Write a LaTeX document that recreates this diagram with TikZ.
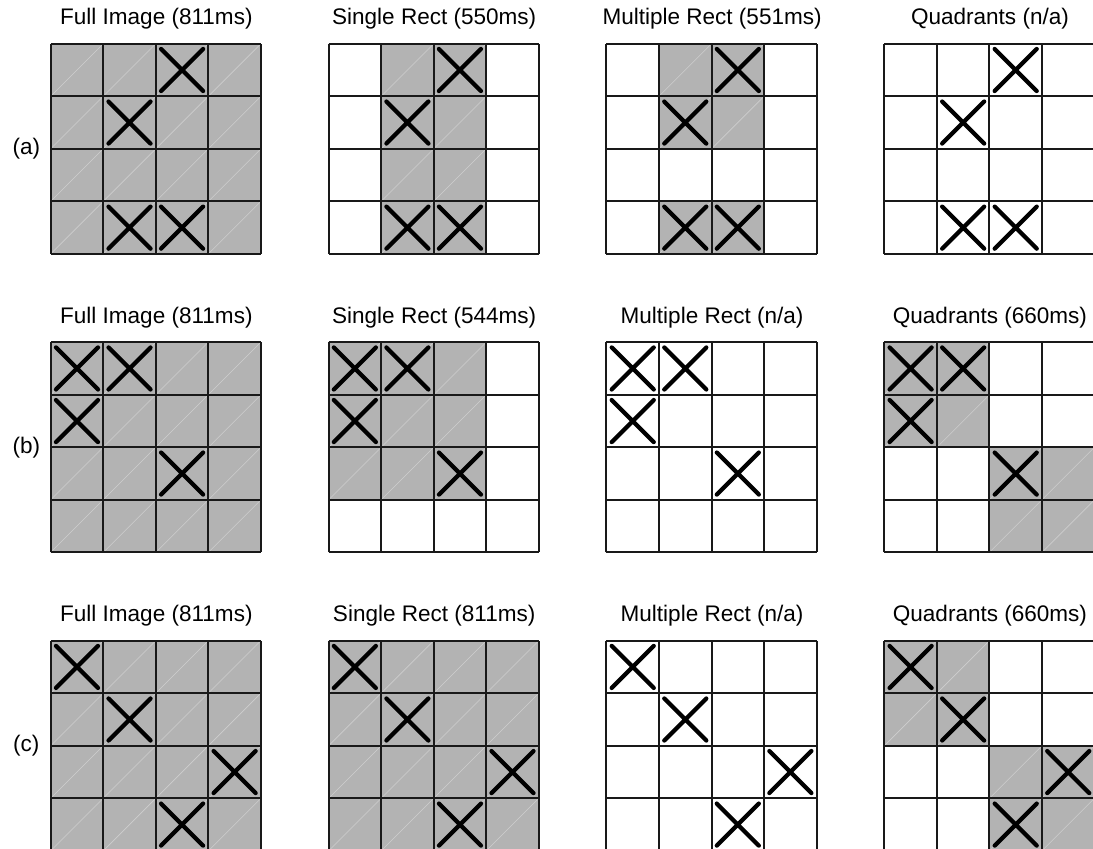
\documentclass[tikz,border=0pt]{standalone}
\usepackage{fontspec}
\setmainfont{Liberation Sans}
\usepackage{tikz}
\definecolor{cellgray}{RGB}{179,179,179}
\definecolor{diaggray}{RGB}{206,206,206}
\definecolor{linegray}{RGB}{25,25,25}

\begin{document}
\begin{tikzpicture}[
  title/.style={font=\fontsize{12.2}{14}\selectfont, anchor=base},
  rowlabel/.style={font=\fontsize{12.2}{14}\selectfont},
  cell/.style={fill=cellgray},
  diag/.style={draw=diaggray, line width=0.3pt},
  gridline/.style={draw=linegray, line width=1.1pt},
  cross/.style={line width=2.3pt, line cap=round},
]
\clip (0,0) rectangle (20.80,-16.156);

% Row labels
\node[rowlabel] (lab_a) at (0.50,-2.832) {(a)};
\node[rowlabel] (lab_b) at (0.50,-8.512) {(b)};
\node[rowlabel] (lab_c) at (0.50,-14.192) {(c)};

% Titles
\node[title] (a_full) at (2.975,-0.472) {Full Image (811ms)};
\node[title] (a_single) at (8.263,-0.472) {Single Rect (550ms)};
\node[title] (a_multi) at (13.551,-0.472) {Multiple Rect (551ms)};
\node[title] (a_quad) at (18.839,-0.472) {Quadrants (n/a)};
\node[title] (b_full) at (2.975,-6.152) {Full Image (811ms)};
\node[title] (b_single) at (8.263,-6.152) {Single Rect (544ms)};
\node[title] (b_multi) at (13.551,-6.152) {Multiple Rect (n/a)};
\node[title] (b_quad) at (18.839,-6.152) {Quadrants (660ms)};
\node[title] (c_full) at (2.975,-11.832) {Full Image (811ms)};
\node[title] (c_single) at (8.263,-11.832) {Single Rect (811ms)};
\node[title] (c_multi) at (13.551,-11.832) {Multiple Rect (n/a)};
\node[title] (c_quad) at (18.839,-11.832) {Quadrants (660ms)};

% (a) Full Image
\begin{scope}[shift={(0.965,-0.832)}]
  \foreach \i in {0,...,3} \foreach \j in {0,...,3} {
    \fill[cell] (\i,-\j) rectangle ++(1,-1);
    \draw[diag] (\i,-\j-1) -- ++(1,1);
  }
  \draw[gridline] (0,0) grid (4,-4);
  \foreach \i/\j in {2/0,1/1,1/3,2/3}
    \draw[cross] (\i+0.1,-\j-0.1) -- ++(0.8,-0.8) (\i+0.1,-\j-0.9) -- ++(0.8,0.8);
\end{scope}

% (a) Single Rect
\begin{scope}[shift={(6.253,-0.832)}]
  \foreach \i in {1,2} \foreach \j in {0,...,3} {
    \fill[cell] (\i,-\j) rectangle ++(1,-1);
    \draw[diag] (\i,-\j-1) -- ++(1,1);
  }
  \draw[gridline] (0,0) grid (4,-4);
  \foreach \i/\j in {2/0,1/1,1/3,2/3}
    \draw[cross] (\i+0.1,-\j-0.1) -- ++(0.8,-0.8) (\i+0.1,-\j-0.9) -- ++(0.8,0.8);
\end{scope}

% (a) Multiple Rect
\begin{scope}[shift={(11.541,-0.832)}]
  \foreach \i/\j in {1/0,2/0,1/1,2/1,1/3,2/3} {
    \fill[cell] (\i,-\j) rectangle ++(1,-1);
    \draw[diag] (\i,-\j-1) -- ++(1,1);
  }
  \draw[gridline] (0,0) grid (4,-4);
  \foreach \i/\j in {2/0,1/1,1/3,2/3}
    \draw[cross] (\i+0.1,-\j-0.1) -- ++(0.8,-0.8) (\i+0.1,-\j-0.9) -- ++(0.8,0.8);
\end{scope}

% (a) Quadrants
\begin{scope}[shift={(16.829,-0.832)}]
  \draw[gridline] (0,0) grid (4,-4);
  \foreach \i/\j in {2/0,1/1,1/3,2/3}
    \draw[cross] (\i+0.1,-\j-0.1) -- ++(0.8,-0.8) (\i+0.1,-\j-0.9) -- ++(0.8,0.8);
\end{scope}

% (b) Full Image
\begin{scope}[shift={(0.965,-6.512)}]
  \foreach \i in {0,...,3} \foreach \j in {0,...,3} {
    \fill[cell] (\i,-\j) rectangle ++(1,-1);
    \draw[diag] (\i,-\j-1) -- ++(1,1);
  }
  \draw[gridline] (0,0) grid (4,-4);
  \foreach \i/\j in {0/0,1/0,0/1,2/2}
    \draw[cross] (\i+0.1,-\j-0.1) -- ++(0.8,-0.8) (\i+0.1,-\j-0.9) -- ++(0.8,0.8);
\end{scope}

% (b) Single Rect
\begin{scope}[shift={(6.253,-6.512)}]
  \foreach \i in {0,1,2} \foreach \j in {0,1,2} {
    \fill[cell] (\i,-\j) rectangle ++(1,-1);
    \draw[diag] (\i,-\j-1) -- ++(1,1);
  }
  \draw[gridline] (0,0) grid (4,-4);
  \foreach \i/\j in {0/0,1/0,0/1,2/2}
    \draw[cross] (\i+0.1,-\j-0.1) -- ++(0.8,-0.8) (\i+0.1,-\j-0.9) -- ++(0.8,0.8);
\end{scope}

% (b) Multiple Rect
\begin{scope}[shift={(11.541,-6.512)}]
  \draw[gridline] (0,0) grid (4,-4);
  \foreach \i/\j in {0/0,1/0,0/1,2/2}
    \draw[cross] (\i+0.1,-\j-0.1) -- ++(0.8,-0.8) (\i+0.1,-\j-0.9) -- ++(0.8,0.8);
\end{scope}

% (b) Quadrants
\begin{scope}[shift={(16.829,-6.512)}]
  \foreach \i/\j in {0/0,1/0,0/1,1/1,2/2,3/2,2/3,3/3} {
    \fill[cell] (\i,-\j) rectangle ++(1,-1);
    \draw[diag] (\i,-\j-1) -- ++(1,1);
  }
  \draw[gridline] (0,0) grid (4,-4);
  \foreach \i/\j in {0/0,1/0,0/1,2/2}
    \draw[cross] (\i+0.1,-\j-0.1) -- ++(0.8,-0.8) (\i+0.1,-\j-0.9) -- ++(0.8,0.8);
\end{scope}

% (c) Full Image
\begin{scope}[shift={(0.965,-12.192)}]
  \foreach \i in {0,...,3} \foreach \j in {0,...,3} {
    \fill[cell] (\i,-\j) rectangle ++(1,-1);
    \draw[diag] (\i,-\j-1) -- ++(1,1);
  }
  \draw[gridline] (0,0) grid (4,-4);
  \foreach \i/\j in {0/0,1/1,3/2,2/3}
    \draw[cross] (\i+0.1,-\j-0.1) -- ++(0.8,-0.8) (\i+0.1,-\j-0.9) -- ++(0.8,0.8);
\end{scope}

% (c) Single Rect
\begin{scope}[shift={(6.253,-12.192)}]
  \foreach \i in {0,...,3} \foreach \j in {0,...,3} {
    \fill[cell] (\i,-\j) rectangle ++(1,-1);
    \draw[diag] (\i,-\j-1) -- ++(1,1);
  }
  \draw[gridline] (0,0) grid (4,-4);
  \foreach \i/\j in {0/0,1/1,3/2,2/3}
    \draw[cross] (\i+0.1,-\j-0.1) -- ++(0.8,-0.8) (\i+0.1,-\j-0.9) -- ++(0.8,0.8);
\end{scope}

% (c) Multiple Rect
\begin{scope}[shift={(11.541,-12.192)}]
  \draw[gridline] (0,0) grid (4,-4);
  \foreach \i/\j in {0/0,1/1,3/2,2/3}
    \draw[cross] (\i+0.1,-\j-0.1) -- ++(0.8,-0.8) (\i+0.1,-\j-0.9) -- ++(0.8,0.8);
\end{scope}

% (c) Quadrants
\begin{scope}[shift={(16.829,-12.192)}]
  \foreach \i/\j in {0/0,1/0,0/1,1/1,2/2,3/2,2/3,3/3} {
    \fill[cell] (\i,-\j) rectangle ++(1,-1);
    \draw[diag] (\i,-\j-1) -- ++(1,1);
  }
  \draw[gridline] (0,0) grid (4,-4);
  \foreach \i/\j in {0/0,1/1,3/2,2/3}
    \draw[cross] (\i+0.1,-\j-0.1) -- ++(0.8,-0.8) (\i+0.1,-\j-0.9) -- ++(0.8,0.8);
\end{scope}

\end{tikzpicture}
\end{document}
